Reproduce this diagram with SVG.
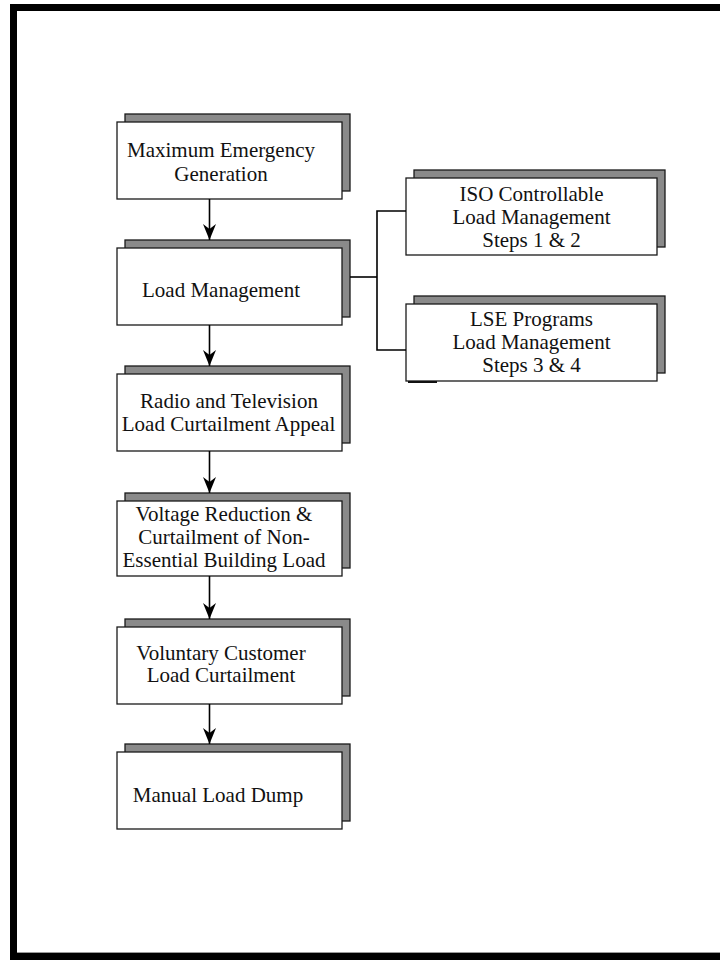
<svg xmlns="http://www.w3.org/2000/svg" width="720" height="960" viewBox="0 0 720 960">
<style>
.sh{fill:#8a8a8a;stroke:#1a1a1a;stroke-width:1.3}
.bx{fill:#ffffff;stroke:#1a1a1a;stroke-width:1.3}
.t{font-family:"Liberation Serif","Times New Roman",serif;font-size:21px;fill:#111;text-anchor:middle}
.c{fill:none;stroke:#000;stroke-width:1.6}
</style>
<defs>
<marker id="ah" viewBox="-16 -7 17 14" refX="0" refY="0" markerWidth="17" markerHeight="14" markerUnits="userSpaceOnUse" orient="auto">
<path d="M0,0 L-16,-6.5 L-11,0 L-16,6.5 Z" fill="#000"/>
</marker>
</defs>
<rect width="720" height="960" fill="#fff"/>
<g id="frame">
<rect x="10" y="4" width="710" height="7" fill="#000"/>
<rect x="10" y="4" width="7" height="956" fill="#000"/>
<rect x="10" y="953" width="710" height="7" fill="#000"/>
<line x1="17" y1="952.5" x2="720" y2="952.5" stroke="#9a9a9a" stroke-width="1"/>
</g>
<g id="n1">
<rect class="sh" x="125" y="114" width="225" height="77"/>
<rect class="bx" x="117" y="122" width="225" height="77"/>
<text class="t" x="221" y="157">Maximum Emergency</text>
<text class="t" x="221" y="181">Generation</text>
</g>
<g id="n2">
<rect class="sh" x="125" y="240" width="225" height="77"/>
<rect class="bx" x="117" y="248" width="225" height="77"/>
<text class="t" x="221" y="297">Load Management</text>
</g>
<g id="n3">
<rect class="sh" x="125" y="366" width="225" height="77"/>
<rect class="bx" x="117" y="374" width="225" height="77"/>
<text class="t" x="229" y="408">Radio and Television</text>
<text class="t" x="228.5" y="431">Load Curtailment Appeal</text>
</g>
<g id="n4">
<rect class="sh" x="125" y="493" width="225" height="75"/>
<rect class="bx" x="117" y="501" width="225" height="75"/>
<text class="t" x="224" y="521">Voltage Reduction &amp;</text>
<text class="t" x="224" y="544">Curtailment of Non-</text>
<text class="t" x="224" y="567">Essential Building Load</text>
</g>
<g id="n5">
<rect class="sh" x="125" y="619" width="225" height="77"/>
<rect class="bx" x="117" y="627" width="225" height="77"/>
<text class="t" x="221" y="660">Voluntary Customer</text>
<text class="t" x="221" y="682">Load Curtailment</text>
</g>
<g id="n6">
<rect class="sh" x="125" y="744" width="225" height="77"/>
<rect class="bx" x="117" y="752" width="225" height="77"/>
<text class="t" x="218" y="802">Manual Load Dump</text>
</g>
<g id="n7">
<rect class="sh" x="414" y="170" width="251" height="77"/>
<rect class="bx" x="406" y="178" width="251" height="77"/>
<text class="t" x="531.5" y="201">ISO Controllable</text>
<text class="t" x="531.5" y="224">Load Management</text>
<text class="t" x="531.5" y="247">Steps 1 &amp; 2</text>
</g>
<g id="n8">
<rect class="sh" x="414" y="296" width="251" height="77"/>
<rect class="bx" x="406" y="304" width="251" height="77"/>
<text class="t" x="531.5" y="326">LSE Programs</text>
<text class="t" x="531.5" y="349">Load Management</text>
<text class="t" x="531.5" y="372">Steps 3 &amp; 4</text>
<line x1="408" y1="382" x2="437" y2="382" stroke="#111" stroke-width="2"/>
</g>
<g id="connectors">
<line class="c" x1="209.5" y1="199" x2="209.5" y2="240" marker-end="url(#ah)"/>
<line class="c" x1="209.5" y1="325" x2="209.5" y2="366" marker-end="url(#ah)"/>
<line class="c" x1="209.5" y1="451" x2="209.5" y2="493" marker-end="url(#ah)"/>
<line class="c" x1="209.5" y1="576" x2="209.5" y2="619" marker-end="url(#ah)"/>
<line class="c" x1="209.5" y1="704" x2="209.5" y2="744" marker-end="url(#ah)"/>
<path class="c" d="M350,277 H377"/>
<path class="c" d="M406,211 H377 V350 H406"/>
</g>
</svg>
